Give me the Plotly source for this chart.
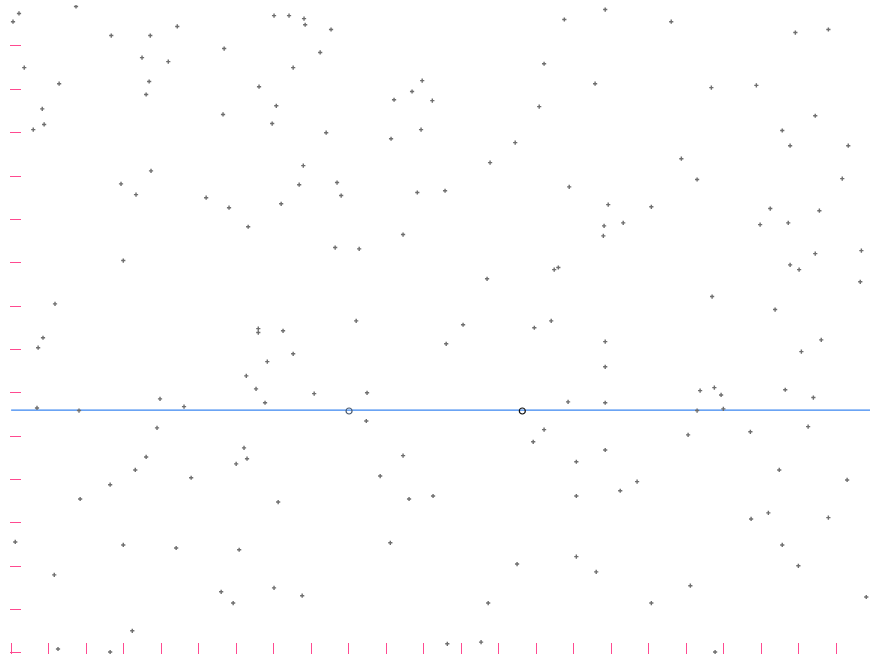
import plotly.graph_objects as go

# Scattered observations (arbitrary units; no tick labels shown in the reference)
x_vals = [1.73, 0.05, 0.21, 2.67, 3.71, 4.43, 7.01, 7.41, 7.81, 7.84, 8.53, 14.75, 15.84, 17.60, 20.91, 21.79,
          0.35, 3.49, 4.19, 5.68, 7.52, 8.24, 14.21,
          1.28, 3.68, 3.60, 6.61, 10.96, 10.69, 10.21, 11.23, 15.57, 18.67, 19.87,
          0.83, 0.88, 0.59, 5.65, 7.07, 6.96, 14.08, 21.44, 20.56, 10.93, 10.13, 8.40, 13.44, 20.77, 22.32,
          3.73, 7.79, 12.77, 17.87, 22.16, 18.29, 2.93, 3.33, 5.20, 5.81, 7.68, 7.20, 8.69, 8.80, 10.83, 11.57,
          14.88, 15.92, 17.07, 20.24, 21.55,
          6.32, 10.45, 15.81, 16.32, 15.79, 19.97, 20.72, 8.64, 9.28, 2.99, 14.48, 14.59, 21.01, 20.77, 21.44,
          22.67, 22.64, 12.69,
          1.17, 18.69, 20.37, 6.59, 6.59, 7.25, 9.20, 12.05, 13.95, 14.40, 0.85, 0.72, 7.52, 6.83, 11.60, 15.84,
          21.07, 21.60,
          6.27, 15.84, 3.97, 6.53, 6.77, 8.08, 9.49, 14.85, 15.84, 18.37, 18.75, 18.93, 20.64, 21.39, 0.69, 4.61,
          1.81, 18.29, 18.99, 9.47,
          3.89, 14.21, 13.92, 18.05, 19.71, 21.25, 6.21, 6.29, 6.00, 3.60, 3.31, 10.45, 15.07, 15.84, 20.48,
          2.64, 4.80, 9.84, 1.84, 7.12, 10.61, 11.25, 15.07, 16.69, 16.24, 22.29,
          0.11, 20.19, 19.73, 21.79, 2.99, 4.40, 6.08, 10.11, 15.07, 20.56, 1.15, 13.49, 15.60, 20.99,
          5.60, 5.92, 7.01, 7.76, 12.72, 17.07, 18.11, 22.80,
          3.23, 1.25, 2.64, 11.63, 12.53, 18.77]
y_vals = [14.91, 14.56, 14.75, 14.24, 14.24, 14.45, 14.70, 14.70, 14.63, 14.49, 14.38, 14.61, 14.84, 14.56, 14.31, 14.38,
          13.50, 13.73, 13.64, 13.94, 13.50, 13.85, 13.59,
          13.13, 13.18, 12.88, 13.06, 13.20, 12.95, 12.76, 12.74, 13.13, 13.04, 13.09,
          12.55, 12.19, 12.07, 12.42, 12.62, 12.21, 12.60, 12.39, 12.05, 12.07, 11.86, 12.00, 11.77, 11.70, 11.70,
          11.12, 11.24, 11.31, 11.40, 10.94, 10.92, 10.82, 10.57, 10.50, 10.27, 10.80, 10.36, 10.85, 10.55, 10.62, 10.66,
          10.75, 10.34, 10.29, 10.25, 10.20,
          9.83, 9.65, 9.85, 9.92, 9.62, 9.88, 9.92, 9.35, 9.32, 9.05, 8.84, 8.89, 8.84, 8.95, 9.21,
          9.28, 8.56, 8.63,
          8.05, 8.22, 7.92, 7.48, 7.39, 7.43, 7.66, 7.57, 7.50, 7.66, 7.27, 7.04, 6.90, 6.72, 7.13, 7.18,
          6.95, 7.22,
          6.39, 6.60, 5.86, 6.09, 5.77, 5.98, 6.00, 5.79, 5.77, 6.05, 6.12, 5.95, 6.07, 5.89, 5.65, 5.68,
          5.59, 5.59, 5.63, 5.35,
          5.19, 5.15, 4.87, 5.03, 5.10, 5.22, 4.73, 4.48, 4.36, 4.52, 4.22, 4.55, 4.41, 4.68, 4.22,
          3.88, 4.04, 4.08, 3.55, 3.48, 3.55, 3.62, 3.62, 3.95, 3.74, 3.99,
          2.56, 3.23, 3.09, 3.12, 2.49, 2.42, 2.38, 2.54, 2.22, 2.49, 1.80, 2.05, 1.87, 2.01,
          1.41, 1.15, 1.50, 1.32, 1.15, 1.15, 1.55, 1.29,
          0.51, 0.09, 0.02, 0.21, 0.25, 0.02]

# Highlighted observations sitting on the reference level
ring_x = [9.01, 13.63]
ring_y = [5.58, 5.58]
ring_colors = ["#4a5a70", "#111111"]

baseline = 5.6
x_range = [-0.03, 22.9]
y_range = [-0.025, 14.945]

fig = go.Figure()
fig.add_trace(go.Scatter(
    x=[0, x_range[1]], y=[baseline, baseline], mode="lines",
    line=dict(color="#3a86f0", width=1.3), hoverinfo="skip", showlegend=False))
fig.add_trace(go.Scatter(
    x=x_vals, y=y_vals, mode="markers",
    marker=dict(symbol="cross", size=3.5, color="#6e6e6e", line=dict(width=0)),
    showlegend=False))
fig.add_trace(go.Scatter(
    x=ring_x, y=ring_y, mode="markers",
    marker=dict(symbol="circle-open", size=6, color=ring_colors, line=dict(width=1.2)),
    showlegend=False))

tick_color = "#ff4a90"
fig.update_xaxes(range=x_range, dtick=1, tick0=0, ticks="inside", ticklen=11, tickwidth=1,
                 tickcolor=tick_color, showticklabels=False, showgrid=False, zeroline=False,
                 showline=False)
fig.update_yaxes(range=y_range, dtick=1, tick0=0, ticks="inside", ticklen=11, tickwidth=1,
                 tickcolor=tick_color, showticklabels=False, showgrid=False, zeroline=False,
                 showline=False)
fig.update_layout(width=870, height=658, margin=dict(l=10, r=0, t=5, b=4, pad=0, autoexpand=False),
                  paper_bgcolor="white", plot_bgcolor="white")
fig.write_html("out.html")
